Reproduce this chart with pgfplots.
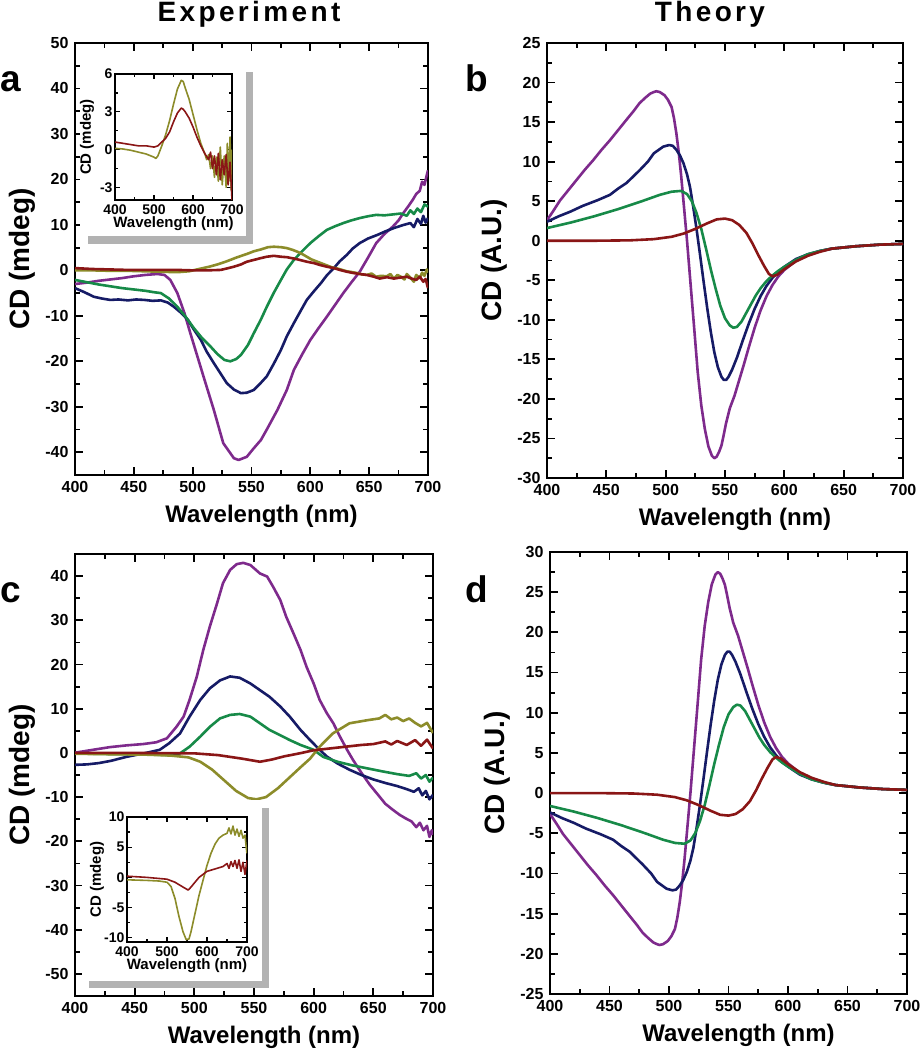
\documentclass[border=0pt]{standalone}
\usepackage{fontspec}
\setmainfont{Liberation Sans}
\newfontfamily\titlefont{Liberation Sans}[LetterSpace=12]
\usepackage{pgfplots}
\pgfplotsset{compat=1.18}

\definecolor{cpurple}{HTML}{7E2A8C}
\definecolor{cnavy}{HTML}{161B66}
\definecolor{cgreen}{HTML}{178A48}
\definecolor{colive}{HTML}{8C8C2A}
\definecolor{cred}{HTML}{8A1616}

\newcommand\tickfont{\fontsize{16}{16}\selectfont\bfseries}
\newcommand\labfont{\fontsize{24}{24}\selectfont\bfseries}
\newcommand\ylabfont{\fontsize{28}{28}\selectfont\bfseries}
\newcommand\insettick{\fontsize{14}{14}\selectfont\bfseries}
\newcommand\insetlab{\fontsize{15}{15}\selectfont\bfseries}

\pgfplotsset{
  cd/.style={
    scale only axis, anchor=north west,
    xmin=400, xmax=700, xtick={400,450,...,700},
    minor x tick num=1, minor y tick num=1,
    axis line style={line width=2pt},
    every tick/.style={black, line width=1.8pt},
    major tick length=8pt, minor tick length=5pt,
    tick label style={font=\tickfont},
    /pgf/number format/assume math mode=true,
    xticklabel style={yshift=-3pt}, yticklabel style={xshift=-3pt},
    xlabel={Wavelength (nm)},
    xlabel style={font=\labfont, at={([xshift=10pt,yshift=-41pt]axis description cs:0.5,0)}, anchor=center},
    ylabel style={font=\ylabfont, at={([xshift=-53pt]axis description cs:0,0.5)}, anchor=center},
    every axis plot/.append style={line width=2.6pt, line join=round},
  },
  inset/.style={
    scale only axis, anchor=north west,
    xmin=400, xmax=700, xtick={400,500,600,700},
    minor x tick num=1, minor y tick num=1,
    axis line style={line width=1.6pt},
    every tick/.style={black, line width=1.3pt},
    major tick length=5pt, minor tick length=3pt,
    tick label style={font=\insettick},
    /pgf/number format/assume math mode=true,
    xticklabel style={yshift=-1pt}, yticklabel style={xshift=1pt},
    xlabel={Wavelength (nm)}, ylabel={CD (mdeg)},
    xlabel style={font=\insetlab, at={([yshift=-24pt]axis description cs:0.5,0)}, anchor=center},
    every axis plot/.append style={line width=1.6pt, line join=round},
  },
}

\begin{document}
\begin{tikzpicture}
\useasboundingbox (0,0) rectangle (921pt,-1050pt);

\node[font=\titlefont\bfseries\fontsize{28}{28}\selectfont] at (249pt,-14pt) {Experiment};
\node[font=\titlefont\bfseries\fontsize{28}{28}\selectfont] at (710pt,-14pt) {Theory};
\node[font=\bfseries\fontsize{37}{37}\selectfont, anchor=base west, inner sep=0pt] at (0pt,-91pt) {a};
\node[font=\bfseries\fontsize{37}{37}\selectfont, anchor=base west, inner sep=0pt] at (465pt,-91pt) {b};
\node[font=\bfseries\fontsize{37}{37}\selectfont, anchor=base west, inner sep=0pt] at (0pt,-602pt) {c};
\node[font=\bfseries\fontsize{37}{37}\selectfont, anchor=base west, inner sep=0pt] at (465pt,-602pt) {d};

% ---------- a : experiment ----------
\begin{axis}[cd, at={(75pt,-43pt)}, width=353pt, height=432pt,
  ymin=-45, ymax=50, ytick={-40,-30,...,50}, ylabel={CD (mdeg)}]
\addplot[cpurple] coordinates {(400,-3.0)(410,-2.7)(420,-2.3)(430,-2.0)(440,-1.7)(450,-1.3)(460,-1.0)(470,-0.8)(476,-1.0)(481,-2.1)(487,-5.0)(493,-9.4)(498,-13.8)(504,-18.9)(510,-24.0)(518,-30.7)(526,-38.0)(535,-41.3)(539,-41.7)(546,-41.0)(552,-39.1)(558,-37.3)(563,-35.0)(572,-30.7)(580,-26.3)(586,-21.9)(593,-18.5)(600,-15.3)(607,-12.7)(614,-10.2)(621,-7.6)(628,-5.0)(635,-2.6)(642,-0.3)(649,2.8)(656,6.0)(663,8.0)(670,9.6)(675,11.0)(679,12.6)(683,14.0)(687,15.5)(690,16.8)(693,17.5)(695,19.5)(697,18.8)(699,21.0)(700,22.0)};
\addplot[cnavy] coordinates {(400,-3.9)(408,-4.8)(416,-5.8)(423,-6.2)(430,-6.5)(437,-6.4)(445,-6.6)(452,-6.4)(459,-6.5)(466,-6.7)(473,-6.6)(479,-7.1)(484,-8.0)(490,-9.3)(496,-10.9)(501,-13.0)(507,-15.3)(512,-17.9)(518,-20.4)(524,-22.8)(529,-24.8)(535,-26.2)(541,-27.0)(546,-26.9)(552,-26.3)(557,-25.0)(563,-23.3)(569,-20.5)(575,-17.5)(580,-14.5)(586,-11.6)(592,-8.8)(597,-6.5)(603,-4.6)(609,-2.8)(614,-1.1)(620,0.5)(625,2.0)(631,3.4)(636,4.8)(642,6.0)(649,7.0)(657,7.8)(664,8.6)(671,9.3)(678,9.9)(685,10.4)(688,9.5)(691,11.3)(694,10.2)(696,12.0)(698,10.5)(700,11.5)};
\addplot[cgreen] coordinates {(400,-2.1)(410,-2.6)(420,-3.1)(430,-3.5)(440,-3.9)(450,-4.2)(460,-4.5)(467,-4.8)(473,-5.0)(480,-6.2)(487,-8.0)(494,-10.2)(501,-12.7)(508,-14.9)(515,-16.7)(521,-18.4)(527,-19.7)(532,-20.0)(537,-19.5)(541,-18.6)(547,-16.4)(552,-13.8)(558,-10.8)(563,-8.0)(569,-4.9)(575,-2.1)(580,0.2)(586,2.3)(593,4.2)(600,6.0)(607,7.5)(614,8.9)(621,9.7)(628,10.4)(635,11.0)(642,11.5)(649,11.9)(656,12.2)(663,12.1)(670,12.3)(677,12.5)(682,12.0)(685,13.2)(688,12.4)(691,13.6)(694,12.8)(697,14.5)(700,14.0)};
\addplot[colive] coordinates {(400,0.0)(415,0.0)(430,-0.1)(445,-0.1)(459,-0.2)(473,-0.3)(487,-0.4)(497,-0.2)(507,0.4)(514,0.8)(521,1.3)(529,2.0)(538,2.9)(546,3.6)(552,4.2)(558,4.6)(564,5.1)(569,5.2)(575,5.1)(580,4.9)(585,4.5)(589,4.1)(593,3.6)(597,3.0)(601,2.4)(606,1.9)(610,1.5)(614,1.1)(618,0.7)(623,0.4)(627,0.1)(631,-0.2)(636,-0.4)(640,-0.6)(644,-0.9)(648,-1.0)(652,-0.7)(656,-1.4)(660,-1.2)(665,-1.3)(668,-0.8)(671,-1.8)(674,-1.0)(677,-1.4)(680,-2.0)(682,-0.8)(685,-1.6)(688,-2.5)(690,-1.0)(693,-1.7)(695,-0.5)(697,-1.2)(699,0.2)(700,-0.5)};
\addplot[cred] coordinates {(400,0.5)(415,0.3)(430,0.2)(445,0.1)(459,0.1)(473,0.1)(487,0.1)(500,0.0)(512,0.0)(524,0.1)(535,0.8)(541,1.3)(546,1.9)(552,2.3)(558,2.7)(563,3.0)(569,3.2)(575,3.0)(580,2.9)(586,2.6)(591,2.3)(597,1.9)(603,1.6)(608,1.2)(614,0.8)(620,0.5)(625,0.1)(631,-0.3)(637,-0.6)(642,-0.8)(648,-1.0)(654,-1.4)(659,-1.8)(665,-1.5)(671,-1.8)(676,-1.6)(682,-1.4)(686,-1.8)(690,-2.1)(693,-1.4)(696,-2.5)(698,-1.9)(700,-3.9)};
\end{axis}

% inset a background
\fill[gray!60] (88pt,-72pt) rectangle (253pt,-244pt);
\fill[white] (80pt,-64pt) rectangle (246pt,-236pt);
\begin{axis}[inset, at={(115pt,-74pt)}, width=117pt, height=126pt,
  ymin=-4, ymax=6, ytick={-3,0,3,6},
  ylabel style={font=\insetlab, at={([xshift=-28pt]axis description cs:0,0.5)}, anchor=center}]
\addplot[colive] coordinates {(400,0.1)(420,0.05)(440,-0.05)(460,-0.2)(480,-0.35)(500,-0.6)(505,-0.7)(510,-0.5)(520,0.3)(530,1.2)(540,2.3)(550,3.6)(560,4.8)(570,5.5)(575,5.4)(580,4.9)(590,4.0)(600,2.8)(610,1.6)(620,0.5)(630,-0.3)(635,-0.8)(640,-0.4)(645,-1.5)(650,-0.5)(655,-2.2)(660,-0.6)(665,-2.5)(670,0.2)(675,-2.8)(680,-0.5)(685,-3.0)(688,0.5)(692,-2.5)(695,1.0)(698,-3.2)(700,0.0)};
\addplot[cred] coordinates {(400,0.6)(420,0.5)(440,0.4)(460,0.3)(480,0.3)(500,0.2)(510,0.3)(520,0.6)(530,0.9)(540,1.4)(550,2.2)(560,2.9)(570,3.3)(575,3.2)(580,3.0)(590,2.5)(600,1.8)(610,1.0)(620,0.3)(630,-0.3)(640,-0.8)(645,-0.2)(650,-1.5)(655,-0.5)(660,-2.0)(665,-0.3)(670,-2.4)(675,-0.8)(680,-2.0)(685,-0.4)(690,-2.8)(695,-1.0)(700,-4.0)};
\end{axis}

% ---------- b : theory ----------
\begin{axis}[cd, at={(547pt,-43pt)}, width=356pt, height=435pt,
  ymin=-30, ymax=25, ytick={-30,-25,...,25}, ylabel={CD (A.U.)}]
\addplot[cpurple] coordinates {(400,2.6)(405,3.7)(411,5.1)(418,6.4)(425,7.7)(432,9.0)(439,10.2)(446,11.5)(453,12.7)(460,14.0)(467,15.3)(473,16.4)(478,17.4)(483,18.1)(487,18.6)(490,18.8)(492,18.9)(495,18.8)(499,18.4)(502,17.8)(505,16.9)(507,15.5)(509,13.6)(511,11.2)(513,8.3)(515,5.0)(518,0.0)(521,-5.5)(524,-11.0)(527,-16.6)(530,-20.8)(533,-23.8)(536,-26.0)(539,-27.2)(541,-27.5)(543,-27.3)(545,-26.7)(547,-25.9)(549,-24.5)(551,-23.0)(554,-21.2)(558,-19.6)(562,-17.6)(566,-15.6)(570,-13.5)(575,-11.0)(580,-8.8)(585,-7.0)(590,-5.6)(595,-4.5)(600,-3.7)(610,-2.5)(620,-1.8)(630,-1.3)(640,-1.0)(660,-0.7)(680,-0.5)(700,-0.4)};
\addplot[cnavy] coordinates {(400,2.4)(410,3.1)(420,3.7)(430,4.4)(443,5.15)(453,5.8)(460,6.6)(467,7.3)(478,8.9)(485,10.0)(490,11.05)(498,11.9)(503,12.1)(506,12.0)(509,11.5)(512,10.8)(515,9.8)(518,8.4)(520.5,6.8)(523,4.5)(526,1.5)(529,-1.8)(532,-5.2)(535,-8.5)(538,-11.5)(541,-14.1)(544,-16.0)(547,-17.2)(549,-17.6)(551,-17.6)(553,-17.2)(556,-16.3)(560,-14.8)(565,-12.6)(570,-10.5)(575,-8.6)(580,-7.0)(585,-5.7)(590,-4.7)(595,-3.9)(600,-3.3)(610,-2.3)(620,-1.7)(630,-1.3)(640,-1.0)(660,-0.7)(680,-0.5)(700,-0.4)};
\addplot[cgreen] coordinates {(400,1.6)(420,2.3)(440,3.1)(460,4.0)(480,5.0)(495,5.8)(505,6.2)(513,6.3)(518,5.9)(522,5.0)(526,3.5)(530,1.5)(534,-1.0)(538,-3.6)(542,-6.0)(546,-8.2)(550,-9.8)(554,-10.7)(557,-11.0)(560,-10.9)(564,-10.2)(568,-9.1)(572,-8.0)(576,-6.9)(580,-6.0)(585,-5.1)(590,-4.4)(595,-3.8)(600,-3.3)(610,-2.4)(620,-1.7)(630,-1.3)(640,-1.0)(660,-0.7)(680,-0.5)(700,-0.4)};
\addplot[cred] coordinates {(400,0.0)(440,0.0)(470,0.05)(490,0.2)(505,0.5)(515,0.9)(525,1.5)(535,2.2)(543,2.7)(550,2.8)(556,2.6)(562,2.0)(568,1.0)(573,-0.3)(578,-1.8)(583,-3.2)(587,-4.2)(590,-4.5)(594,-4.3)(600,-3.6)(610,-2.6)(620,-1.9)(630,-1.4)(640,-1.0)(660,-0.7)(680,-0.5)(700,-0.4)};
\end{axis}

% ---------- c : experiment ----------
\begin{axis}[cd, at={(75pt,-554pt)}, width=358pt, height=442pt,
  ymin=-55, ymax=45, ytick={-50,-40,...,40}, ylabel={CD (mdeg)}]
\addplot[cpurple] coordinates {(400,0.05)(415,0.7)(429,1.3)(443,1.7)(457,2.0)(468,2.4)(477,3.3)(485,5.9)(491,8.2)(496,12.0)(502,17.2)(507.5,23.3)(513,28.6)(519,33.8)(524,38.4)(530,41.4)(535.5,42.7)(541,43.0)(547,42.5)(555,40.6)(561,39.9)(566,37.6)(572,34.6)(577,30.8)(583,27.1)(589,23.3)(594,19.5)(600,15.7)(605,12.0)(611,9.0)(616.5,6.7)(622,3.7)(628,0.7)(633,-1.6)(640,-4.5)(647,-7.2)(654,-9.5)(660,-11.5)(666,-12.8)(672,-14.0)(677,-14.8)(682,-15.5)(686,-16.8)(689,-15.8)(692,-17.5)(695,-16.5)(697,-19.0)(699,-17.5)(700,-18.5)};
\addplot[cnavy] coordinates {(400,-2.7)(410,-2.6)(420,-2.3)(430,-1.8)(443,-0.9)(457,-0.15)(471,0.7)(479,2.2)(488,4.4)(496,8.2)(505,12.0)(513,14.6)(521.5,16.4)(530,17.3)(538,17.0)(547,15.7)(555,14.2)(563,12.7)(572,10.5)(580,8.2)(589,5.2)(597,2.9)(605,0.7)(611,-0.8)(620,-2.4)(630,-3.8)(640,-5.0)(650,-6.0)(660,-6.8)(670,-7.5)(678,-8.2)(684,-8.8)(688,-8.0)(691,-9.6)(694,-8.6)(697,-10.5)(700,-9.5)};
\addplot[cgreen] coordinates {(400,-0.1)(429,-0.25)(457,-0.3)(480,-0.5)(488,-0.1)(496,1.4)(505,3.7)(513,5.9)(521.5,7.8)(530,8.6)(538,8.8)(547,8.2)(555,6.7)(563,5.2)(572,4.0)(580,2.9)(589,1.8)(600,0.7)(608,-0.9)(620,-2.0)(632,-2.8)(645,-3.5)(658,-4.2)(670,-4.8)(680,-5.2)(686,-4.6)(690,-5.8)(694,-5.0)(697,-6.5)(700,-5.6)};
\addplot[colive] coordinates {(400,-0.2)(430,-0.3)(460,-0.4)(480,-0.6)(495,-1.0)(505,-2.0)(515,-3.8)(525,-6.2)(535,-8.6)(545,-10.2)(552,-10.5)(560,-10.0)(570,-8.0)(580,-5.5)(590,-3.0)(597,-1.3)(605,1.4)(616,4.4)(630,6.7)(645,7.4)(655,7.8)(660,8.6)(665,7.6)(670,8.0)(675,7.2)(680,7.8)(685,6.8)(690,6.0)(695,6.8)(700,4.5)};
\addplot[cred] coordinates {(400,0.0)(450,0.0)(500,-0.1)(520,-0.5)(540,-1.3)(555,-2.0)(565,-1.5)(575,-0.8)(590,0.0)(600,0.6)(620,1.2)(640,1.8)(650,2.0)(660,2.6)(665,1.9)(670,2.7)(678,1.8)(685,2.9)(690,1.6)(695,3.0)(700,1.0)};
\end{axis}

% inset c background
\fill[gray!60] (89pt,-808pt) rectangle (269pt,-988pt);
\fill[white] (82pt,-800pt) rectangle (262pt,-981pt);
\begin{axis}[inset, at={(127pt,-817pt)}, width=120pt, height=125pt,
  ymin=-10.7, ymax=10, ytick={-10,-5,...,10},
  ylabel style={font=\insetlab, at={([xshift=-30pt]axis description cs:0,0.5)}, anchor=center}]
\addplot[colive] coordinates {(400,-0.4)(450,-0.5)(480,-0.6)(500,-0.8)(510,-1.5)(520,-3.5)(530,-6.5)(540,-9.0)(548,-10.3)(555,-10.2)(560,-9.0)(570,-6.0)(580,-3.0)(590,-0.5)(600,2.0)(610,4.0)(620,5.5)(630,6.5)(640,7.0)(650,7.3)(655,8.2)(660,7.2)(665,8.5)(670,7.0)(675,8.0)(680,6.8)(685,7.8)(690,6.5)(695,7.0)(698,5.0)(700,4.0)};
\addplot[cred] coordinates {(400,0.2)(450,0.0)(500,-0.3)(520,-0.8)(540,-1.6)(553,-2.1)(560,-1.6)(570,-0.8)(580,0.0)(590,0.5)(600,1.0)(620,1.4)(640,1.8)(650,2.3)(655,1.5)(660,2.6)(665,1.8)(670,2.8)(675,1.5)(680,2.9)(685,1.0)(690,2.5)(695,0.5)(700,2.8)};
\end{axis}

% ---------- d : theory ----------
\begin{axis}[cd, at={(550pt,-552pt)}, width=357pt, height=442pt,
  ymin=-25, ymax=30, ytick={-25,-20,...,30}, ylabel={CD (A.U.)}]
\addplot[cpurple] coordinates {(400,-2.6)(405,-3.7)(411,-5.1)(418,-6.4)(425,-7.7)(432,-9.0)(439,-10.2)(446,-11.5)(453,-12.7)(460,-14.0)(467,-15.3)(473,-16.4)(478,-17.4)(483,-18.1)(487,-18.6)(490,-18.8)(492,-18.9)(495,-18.8)(499,-18.4)(502,-17.8)(505,-16.9)(507,-15.5)(509,-13.6)(511,-11.2)(513,-8.3)(515,-5.0)(518,0.0)(521,5.5)(524,11.0)(527,16.6)(530,20.8)(533,23.8)(536,26.0)(539,27.2)(541,27.5)(543,27.3)(545,26.7)(547,25.9)(549,24.5)(551,23.0)(554,21.2)(558,19.6)(562,17.6)(566,15.6)(570,13.5)(575,11.0)(580,8.8)(585,7.0)(590,5.6)(595,4.5)(600,3.7)(610,2.5)(620,1.8)(630,1.3)(640,1.0)(660,0.7)(680,0.5)(700,0.4)};
\addplot[cnavy] coordinates {(400,-2.4)(410,-3.1)(420,-3.7)(430,-4.4)(443,-5.15)(453,-5.8)(460,-6.6)(467,-7.3)(478,-8.9)(485,-10.0)(490,-11.05)(498,-11.9)(503,-12.1)(506,-12.0)(509,-11.5)(512,-10.8)(515,-9.8)(518,-8.4)(520.5,-6.8)(523,-4.5)(526,-1.5)(529,1.8)(532,5.2)(535,8.5)(538,11.5)(541,14.1)(544,16.0)(547,17.2)(549,17.6)(551,17.6)(553,17.2)(556,16.3)(560,14.8)(565,12.6)(570,10.5)(575,8.6)(580,7.0)(585,5.7)(590,4.7)(595,3.9)(600,3.3)(610,2.3)(620,1.7)(630,1.3)(640,1.0)(660,0.7)(680,0.5)(700,0.4)};
\addplot[cgreen] coordinates {(400,-1.6)(420,-2.3)(440,-3.1)(460,-4.0)(480,-5.0)(495,-5.8)(505,-6.2)(513,-6.3)(518,-5.9)(522,-5.0)(526,-3.5)(530,-1.5)(534,1.0)(538,3.6)(542,6.0)(546,8.2)(550,9.8)(554,10.7)(557,11.0)(560,10.9)(564,10.2)(568,9.1)(572,8.0)(576,6.9)(580,6.0)(585,5.1)(590,4.4)(595,3.8)(600,3.3)(610,2.4)(620,1.7)(630,1.3)(640,1.0)(660,0.7)(680,0.5)(700,0.4)};
\addplot[cred] coordinates {(400,0.0)(440,0.0)(470,-0.05)(490,-0.2)(505,-0.5)(515,-0.9)(525,-1.5)(535,-2.2)(543,-2.7)(550,-2.8)(556,-2.6)(562,-2.0)(568,-1.0)(573,0.3)(578,1.8)(583,3.2)(587,4.2)(590,4.5)(594,4.3)(600,3.6)(610,2.6)(620,1.9)(630,1.4)(640,1.0)(660,0.7)(680,0.5)(700,0.4)};
\end{axis}
\end{tikzpicture}
\end{document}
